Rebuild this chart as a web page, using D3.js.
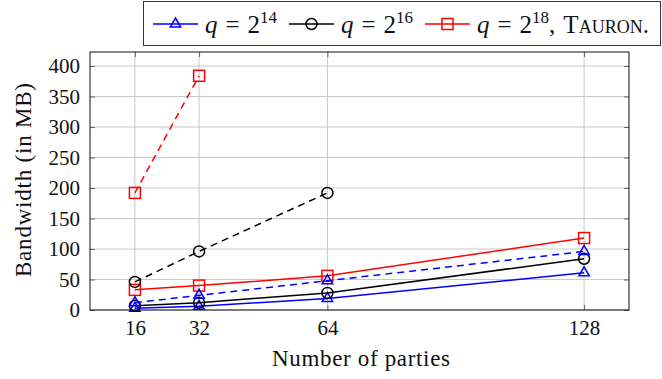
<!DOCTYPE html>
<html>
<head>
<meta charset="utf-8">
<script src="https://cdn.jsdelivr.net/npm/d3@7"></script>
<style>
  body { margin: 0; background: #fff; }
  svg { display: block; }
  text { font-family: 'Liberation Serif', 'Times New Roman', serif; fill: #111; }
</style>
</head>
<body>
<script>
// number of parties on the x axis
const parties = [16, 32, 64, 128]
const yTicks = [0, 50, 100, 150, 200, 250, 300, 350, 400]

// bandwidth in MB
const q14Solid = [3, 6, 19, 61]
const q14Dashed = [12, 24, 48, 96]
const q16Solid = [7, 12, 28, 84]
const q16Dashed = [46, 96, 192]
const q18Solid = [33, 40, 56, 118]
const q18Dashed = [192, 384]

const series = [
  {values: q14Solid, color: '#0000ff', mark: 'triangle', dash: null},
  {values: q16Solid, color: '#000000', mark: 'circle', dash: null},
  {values: q18Solid, color: '#ff0000', mark: 'square', dash: null},
  {values: q14Dashed, color: '#0000ff', mark: 'triangle', dash: '7,5'},
  {values: q16Dashed, color: '#000000', mark: 'circle', dash: '7,5'},
  {values: q18Dashed, color: '#ff0000', mark: 'square', dash: '7,5'},
]

const legendItems = [
  {exp: '14', color: '#0000ff', mark: 'triangle', tail: ''},
  {exp: '16', color: '#000000', mark: 'circle', tail: ''},
  {exp: '18', color: '#ff0000', mark: 'square', tail: 'Tauron.'},
]

const width = 662, height = 379
const m = {left: 90, right: 629, top: 52, bottom: 310}

const svg = d3.select('body').append('svg')
  .attr('width', width).attr('height', height)

const x = d3.scaleLinear().domain([4.8, 139.2]).range([m.left, m.right])
const y = d3.scaleLinear().domain([0, 423]).range([m.bottom, m.top])

// grid
svg.append('g').selectAll('line').data(parties).join('line')
  .attr('x1', d => x(d)).attr('x2', d => x(d))
  .attr('y1', m.top).attr('y2', m.bottom)
  .attr('stroke', '#c8c8c8').attr('stroke-width', 1)
svg.append('g').selectAll('line').data(yTicks).join('line')
  .attr('x1', m.left).attr('x2', m.right)
  .attr('y1', d => y(d)).attr('y2', d => y(d))
  .attr('stroke', '#c8c8c8').attr('stroke-width', 1)

// axes (ticks inside)
const styleAxis = g => {
  g.select('.domain').remove()
  g.selectAll('.tick line').attr('stroke', '#666')
  g.selectAll('.tick text').style('font-size', '21px')
    .style('font-family', "'Liberation Serif', serif").attr('fill', '#111')
}
svg.append('g').attr('transform', `translate(0,${m.bottom})`)
  .call(d3.axisBottom(x).tickValues(parties).tickSize(-5).tickPadding(10))
  .call(styleAxis)
svg.append('g').attr('transform', `translate(0,${m.top})`)
  .call(d3.axisTop(x).tickValues(parties).tickSize(-5).tickFormat(''))
  .call(styleAxis)
svg.append('g').attr('transform', `translate(${m.left},0)`)
  .call(d3.axisLeft(y).tickValues(yTicks).tickSize(-5).tickPadding(10))
  .call(styleAxis)
svg.append('g').attr('transform', `translate(${m.right},0)`)
  .call(d3.axisRight(y).tickValues(yTicks).tickSize(-5).tickFormat(''))
  .call(styleAxis)

svg.append('rect')
  .attr('x', m.left).attr('y', m.top)
  .attr('width', m.right - m.left).attr('height', m.bottom - m.top)
  .attr('fill', 'none').attr('stroke', '#111').attr('stroke-width', 1)

function drawMark(g, type, color) {
  if (type === 'circle') {
    g.append('circle').attr('r', 5.5)
  } else if (type === 'square') {
    g.append('rect').attr('x', -5.5).attr('y', -5.5).attr('width', 11).attr('height', 11)
  } else {
    g.append('path').attr('d', 'M0,-6 L5.2,3 L-5.2,3 Z')
  }
  g.selectAll('*').attr('fill', 'none').attr('stroke', color).attr('stroke-width', 1.5)
}

const line = d3.line().x((d, i) => x(parties[i])).y(d => y(d))

series.forEach(s => {
  svg.append('path')
    .attr('d', line(s.values))
    .attr('fill', 'none')
    .attr('stroke', s.color)
    .attr('stroke-width', 1.5)
    .attr('stroke-dasharray', s.dash)
  s.values.forEach((v, i) => {
    const g = svg.append('g').attr('transform', `translate(${x(parties[i])},${y(v)})`)
    drawMark(g, s.mark, s.color)
  })
})

// axis labels
svg.append('text')
  .attr('x', 361).attr('y', 366)
  .attr('text-anchor', 'middle')
  .style('font-size', '23px')
  .attr('textLength', 178).attr('lengthAdjust', 'spacing')
  .text('Number of parties')

svg.append('text')
  .attr('transform', `translate(31,180) rotate(-90)`)
  .attr('text-anchor', 'middle')
  .style('font-size', '23px')
  .attr('textLength', 194).attr('lengthAdjust', 'spacing')
  .text('Bandwidth (in MB)')

// legend
const legend = svg.append('g')
legend.append('rect')
  .attr('x', 143.5).attr('y', 1.5).attr('width', 517).attr('height', 44)
  .attr('fill', '#fff').attr('stroke', '#333').attr('stroke-width', 1)

const legendX = [153, 289, 425]
legendItems.forEach((it, i) => {
  const x0 = legendX[i]
  legend.append('line')
    .attr('x1', x0).attr('x2', x0 + 45).attr('y1', 24).attr('y2', 24)
    .attr('stroke', it.color).attr('stroke-width', 1.5)
  drawMark(legend.append('g').attr('transform', `translate(${x0 + 22.5},24)`), it.mark, it.color)
  const t = legend.append('text').attr('x', x0 + 52).attr('y', 33).style('font-size', '25px')
  t.append('tspan').style('font-style', 'italic').text('q')
  t.append('tspan').attr('dx', 8).text('=')
  t.append('tspan').attr('dx', 8).text('2')
  t.append('tspan').attr('dy', -10).style('font-size', '17px').text(it.exp)
  if (it.tail) {
    t.append('tspan').attr('dy', 10).text(',')
    t.append('tspan').attr('dx', 8).style('font-variant', 'small-caps').text(it.tail)
  }
})
</script>
</body>
</html>
